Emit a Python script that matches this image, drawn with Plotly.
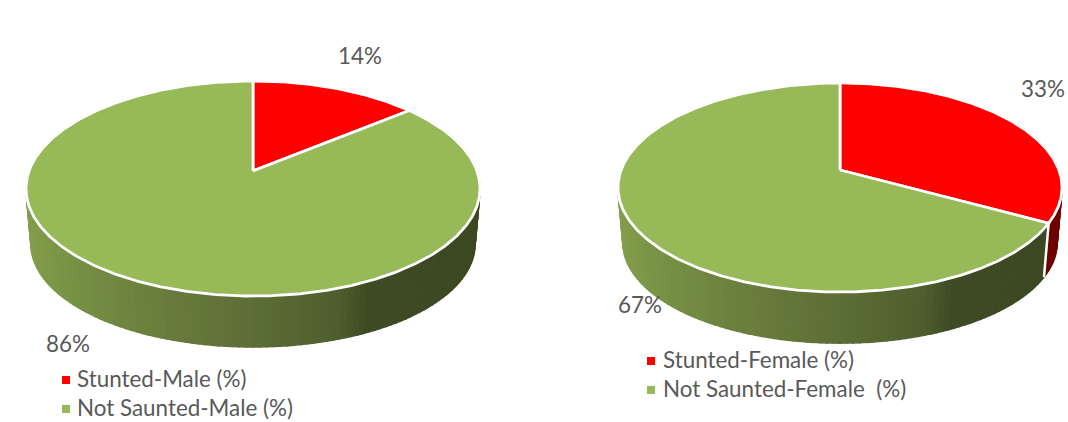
import math
import plotly.graph_objects as go

# Shares shown in each pie, in percent, clockwise from twelve o'clock
male_categories = ["Stunted-Male (%)", "Not Saunted-Male (%)"]
male_values = [14, 86]
female_categories = ["Stunted-Female (%)", "Not Saunted-Female\u00a0 (%)"]
female_values = [33, 67]

TOP_COLORS = ["#FF0000", "#98B958"]
SIDE_RED = "#6E0000"
SIDE_STOPS = [(0.0, (135, 160, 78)), (0.15, (118, 145, 68)), (0.3, (108, 128, 62)),
              (0.5, (92, 110, 54)), (0.66, (78, 94, 46)), (0.72, (62, 75, 35)),
              (1.0, (60, 72, 34))]
TEXT_COLOR = "#595959"
FONT = "Lato"

fig = go.Figure()


def project(theta, cx, cy, a, b, k):
    """Perspective projection of a point on the unit disc's rim."""
    u, v = math.sin(theta), math.cos(theta)
    w = 1 + k * v
    return cx + a * u / w, cy - b * v / w


def side_color(t):
    for (t0, c0), (t1, c1) in zip(SIDE_STOPS, SIDE_STOPS[1:]):
        if t <= t1:
            f = (t - t0) / (t1 - t0)
            return "rgb(%d,%d,%d)" % tuple(round(p + (q - p) * f) for p, q in zip(c0, c1))
    return "rgb(%d,%d,%d)" % SIDE_STOPS[-1][1]


def draw_pie(values, categories, geo):
    cx, cy, a, b, k = geo["cx"], geo["cy"], geo["a"], geo["b"], geo["k"]
    a2, b2, cy2 = geo["a2"], geo["b2"], geo["cy2"]
    total = sum(values)
    edges = [0.0]
    for val in values:
        edges.append(edges[-1] + val / total * 2 * math.pi)

    # Wall of the disc, thin strips from the back towards the viewer
    step = math.radians(1.5)
    count = int(2 * math.pi / step)
    strips = []
    for i in range(count):
        t0, t1 = i * step, min((i + 1) * step, 2 * math.pi)
        strips.append((math.cos((t0 + t1) / 2), t0, t1))
    for depth, t0, t1 in sorted(strips, reverse=True):
        if depth > 0.55:
            continue
        mid = (t0 + t1) / 2
        top0, top1 = project(t0, cx, cy, a, b, k), project(t1, cx, cy, a, b, k)
        bot0, bot1 = project(t0, cx, cy2, a2, b2, k), project(t1, cx, cy2, a2, b2, k)
        color = SIDE_RED if mid < edges[1] else side_color((math.sin(mid) + 1) / 2)
        fig.add_trace(go.Scatter(
            x=[top0[0], top1[0], bot1[0], bot0[0], top0[0]],
            y=[top0[1], top1[1], bot1[1], bot0[1], top0[1]],
            mode="lines", fill="toself", fillcolor=color,
            line=dict(color=color, width=1.6), hoverinfo="skip", showlegend=False))

    # Seam where the two slices meet on the wall, when it faces the viewer
    for edge in edges[:-1]:
        if math.cos(edge) < 0:
            top, bot = project(edge, cx, cy, a, b, k), project(edge, cx, cy2, a2, b2, k)
            fig.add_trace(go.Scatter(x=[top[0], bot[0]], y=[top[1], bot[1]], mode="lines",
                                     line=dict(color="white", width=2.5),
                                     hoverinfo="skip", showlegend=False))

    # Top face
    for i in range(len(values)):
        n = max(int((edges[i + 1] - edges[i]) / math.radians(0.5)), 2)
        pts = [project(edges[i] + (edges[i + 1] - edges[i]) * j / n, cx, cy, a, b, k)
               for j in range(n + 1)]
        xs = [cx] + [p[0] for p in pts] + [cx]
        ys = [cy] + [p[1] for p in pts] + [cy]
        fig.add_trace(go.Scatter(x=xs, y=ys, mode="lines", fill="toself",
                                 fillcolor=TOP_COLORS[i],
                                 line=dict(color="white", width=2.8),
                                 hoverinfo="skip", showlegend=False))

    # Percentage labels
    for val, (lx, ly) in zip(values, geo["labels"]):
        fig.add_trace(go.Scatter(x=[lx], y=[ly], mode="text", text=[f"{val}%"],
                                 textposition="middle center",
                                 textfont=dict(family=FONT, size=geo["font"], color=TEXT_COLOR),
                                 hoverinfo="skip", showlegend=False))

    # Key under the pie
    kx, ky, gap = geo["key"]
    for i, cat in enumerate(categories):
        fig.add_trace(go.Scatter(x=[kx], y=[ky + i * gap], mode="markers",
                                 marker=dict(symbol="square", size=8, color=TOP_COLORS[i]),
                                 hoverinfo="skip", showlegend=False))
        fig.add_trace(go.Scatter(x=[kx + geo["key_pad"]], y=[ky + i * gap + 1], mode="text",
                                 text=[cat], textposition="middle right",
                                 textfont=dict(family=FONT, size=geo["font"], color=TEXT_COLOR),
                                 hoverinfo="skip", showlegend=False))


draw_pie(male_values, male_categories, dict(
    cx=253, cy=171, a=224, b=104.7, k=0.163,
    a2=219, b2=100, cy2=227.5,
    labels=[(360, 58), (68, 346)], key=(66, 380, 29), key_pad=11, font=22.4))
draw_pie(female_values, female_categories, dict(
    cx=840, cy=170, a=218.9, b=101.6, k=0.1674,
    a2=214, b2=97.5, cy2=226,
    labels=[(1043, 91), (640, 307)], key=(651, 361, 29), key_pad=12, font=22.4))

fig.update_layout(
    width=1068, height=422, margin=dict(l=0, r=0, t=0, b=0),
    paper_bgcolor="white", plot_bgcolor="white", showlegend=False,
    xaxis=dict(range=[0, 1068], visible=False, fixedrange=True),
    yaxis=dict(range=[422, 0], visible=False, fixedrange=True),
)
fig.write_html("out.html", config=dict(displayModeBar=False))
